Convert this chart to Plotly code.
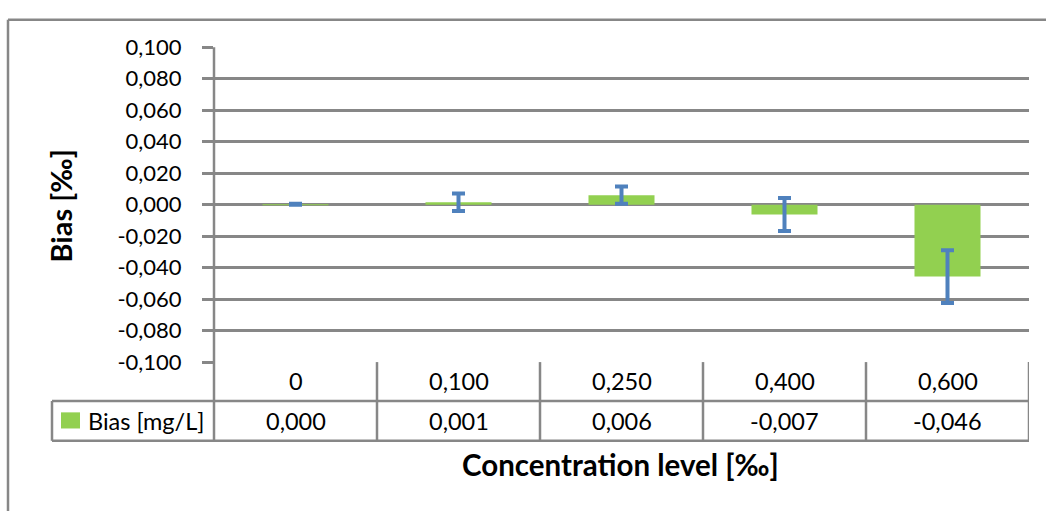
import plotly.graph_objects as go

# ---- data ----
categories = ["0", "0,100", "0,250", "0,400", "0,600"]
bias = [0.0002, 0.0015, 0.0060, -0.0062, -0.0457]
bias_table = ["0,000", "0,001", "0,006", "-0,007", "-0,046"]
bias_err = [0.0003, 0.0056, 0.0055, 0.0105, 0.0168]
y_tickvals = [0.10, 0.08, 0.06, 0.04, 0.02, 0.0, -0.02, -0.04, -0.06, -0.08, -0.10]
y_ticktext = ["0,100", "0,080", "0,060", "0,040", "0,020", "0,000",
              "-0,020", "-0,040", "-0,060", "-0,080", "-0,100"]
series_name = "Bias [mg/L]"

W, H = 1046, 524
FONT = "Lato"
GRID = "#878787"
GREEN = "#92D050"
BLUE = "#4F81BD"


def px(x):
    return x / W


def py(y):
    return 1 - y / H


PLOT_L, PLOT_R, PLOT_T, PLOT_B = 214, 1029, 35, 367
ROW1_B, ROW2_B = 408, 450
TABLE_L = 52

fig = go.Figure()
fig.add_trace(go.Bar(
    x=list(range(len(categories))), y=bias, width=0.405,
    marker=dict(color=GREEN, line=dict(width=0)),
    error_y=dict(type="data", array=bias_err, visible=True,
                 color=BLUE, thickness=4, width=6.5),
    showlegend=False, hoverinfo="skip",
))

shapes = []
line = dict(color=GRID, width=2.5)
# outer chart border (partially visible)
shapes.append(dict(type="line", xref="paper", yref="paper", x0=px(8), x1=px(8), y0=py(6), y1=0, line=line))
shapes.append(dict(type="line", xref="paper", yref="paper", x0=px(8), x1=1, y0=py(6), y1=py(6), line=line))
# left axis line extended through table
shapes.append(dict(type="line", xref="paper", yref="paper", x0=px(PLOT_L), x1=px(PLOT_L),
                   y0=py(PLOT_T), y1=py(ROW2_B), line=line))
# table horizontal lines
shapes.append(dict(type="line", xref="paper", yref="paper", x0=px(TABLE_L), x1=px(PLOT_R),
                   y0=py(ROW1_B), y1=py(ROW1_B), line=line))
shapes.append(dict(type="line", xref="paper", yref="paper", x0=px(TABLE_L), x1=px(PLOT_R),
                   y0=py(ROW2_B), y1=py(ROW2_B), line=line))
shapes.append(dict(type="line", xref="paper", yref="paper", x0=px(TABLE_L), x1=px(TABLE_L),
                   y0=py(ROW1_B), y1=py(ROW2_B), line=line))
# table vertical dividers at category boundaries
for i in range(len(categories)):
    xb = i + 0.5
    shapes.append(dict(type="line", xref="x", yref="paper", x0=xb, x1=xb,
                       y0=py(PLOT_B), y1=py(ROW2_B), line=line))
# legend key
shapes.append(dict(type="rect", xref="paper", yref="paper", x0=px(61), x1=px(80),
                   y0=py(437), y1=py(420), fillcolor=GREEN, line=dict(width=0)))

annotations = []
for i, (c, b) in enumerate(zip(categories, bias_table)):
    annotations.append(dict(x=i, xref="x", y=py(387), yref="paper", text=c, showarrow=False,
                            font=dict(size=23.5, color="black", family=FONT), xanchor="center", yanchor="middle"))
    annotations.append(dict(x=i, xref="x", y=py(429), yref="paper", text=b, showarrow=False,
                            font=dict(size=23.5, color="black", family=FONT), xanchor="center", yanchor="middle"))
annotations.append(dict(x=px(86), xref="paper", y=py(429), yref="paper", text=series_name, showarrow=False,
                        font=dict(size=23.5, color="black", family=FONT), xanchor="left", yanchor="middle"))
annotations.append(dict(x=px(620), xref="paper", y=py(475), yref="paper", text="<b>Concentration level [‰]</b>",
                        showarrow=False, font=dict(size=29.5, color="black", family=FONT),
                        xanchor="center", yanchor="middle"))
annotations.append(dict(x=px(61), xref="paper", y=py(203), yref="paper", text="<b>Bias [‰]</b>",
                        showarrow=False, textangle=-90, font=dict(size=29, color="black", family=FONT),
                        xanchor="center", yanchor="middle"))

fig.update_layout(
    autosize=True,
    margin=dict(l=0, r=0, t=0, b=0),
    paper_bgcolor="white", plot_bgcolor="white",
    font=dict(family=FONT, color="black"),
    shapes=shapes, annotations=annotations,
    xaxis=dict(domain=[px(PLOT_L), px(PLOT_R)], range=[-0.5, len(categories) - 0.5],
               showticklabels=False, showgrid=False, zeroline=False, showline=False, ticks=""),
    yaxis=dict(domain=[py(PLOT_B), py(PLOT_T)], range=[-0.1, 0.1],
               tickvals=y_tickvals, ticktext=y_ticktext,
               tickfont=dict(size=22, color="black", family=FONT),
               showgrid=True, gridcolor=GRID, gridwidth=2.5,
               zeroline=False, showline=False,
               ticks="outside", ticklen=11, tickwidth=2.5, tickcolor=GRID, ticklabelstandoff=16),
)

post = ("document.documentElement.style.margin='0';document.body.style.margin='0';"
        "document.body.style.overflow='hidden';document.documentElement.style.overflow='hidden';"
        "var d=document.getElementById('{plot_id}');d.style.position='fixed';d.style.left='0px';d.style.top='0px';"
        "Plotly.Plots.resize(d);")

fig.write_html("out.html", default_width="100vw", default_height="100vh",
               config={"displayModeBar": False, "responsive": True}, post_script=post)
